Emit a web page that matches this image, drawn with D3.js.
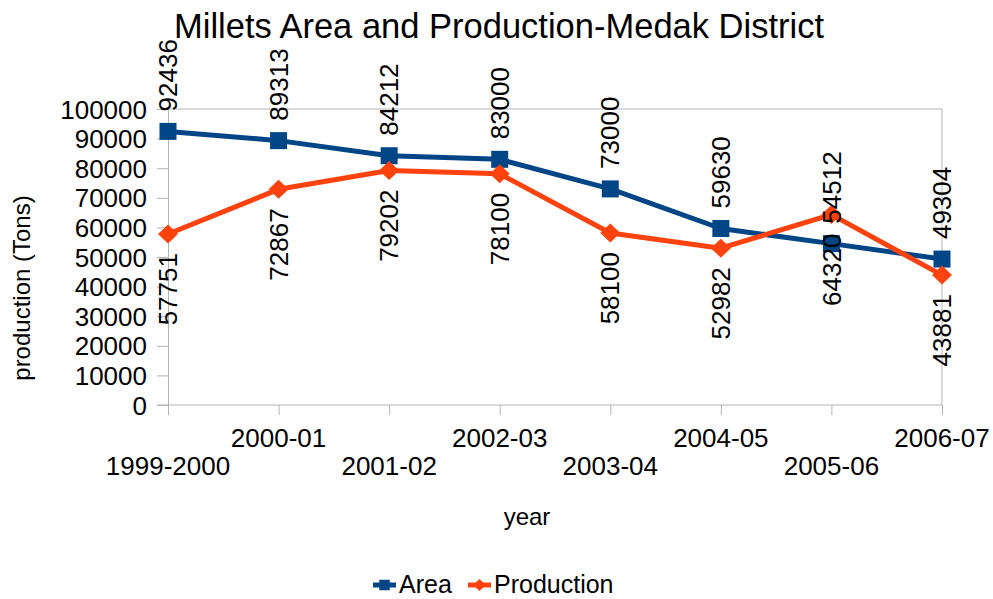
<!DOCTYPE html>
<html>
<head>
  <style>
    body {
      margin: 0;
      background: white;
    }
    text {
      font-family: "Liberation Sans", Arial, sans-serif;
      fill: black;
    }
  </style>
</head>
<body>
  <script src="https://d3js.org/d3.v7.min.js"></script>
  <script>
    var years = ["1999-2000", "2000-01", "2001-02", "2002-03", "2003-04", "2004-05", "2005-06", "2006-07"];
    var area = [92436, 89313, 84212, 83000, 73000, 59630, 54512, 49304];
    var production = [57751, 72867, 79202, 78100, 58100, 52982, 64320, 43881];
    var yTicks = [0, 10000, 20000, 30000, 40000, 50000, 60000, 70000, 80000, 90000, 100000];

    var width = 993, height = 599;
    var plotLeft = 168, plotRight = 942, plotTop = 109, plotBottom = 405;
    var blue = "#004586", orange = "#ff420e", grey = "#b3b3b3";
    var fs = 26;

    var svg = d3.select("body").append("svg")
        .attr("width", width)
        .attr("height", height);

    var x = d3.scalePoint().domain(years).range([plotLeft, plotRight]);
    var y = d3.scaleLinear().domain([0, 100000]).range([plotBottom, plotTop]);

    // square-ish diamond, like the office chart marker
    function diamond(w, h) {
      return "M0," + (-h) + "L" + w + ",0L0," + h + "L" + (-w) + ",0Z";
    }

    // frame
    svg.append("line").attr("x1", plotLeft).attr("x2", plotRight).attr("y1", plotTop).attr("y2", plotTop)
        .attr("stroke", grey).attr("stroke-width", 1);
    svg.append("line").attr("x1", plotRight).attr("x2", plotRight).attr("y1", plotTop).attr("y2", plotBottom)
        .attr("stroke", grey).attr("stroke-width", 1);

    // y axis
    var yAxis = svg.append("g")
        .attr("transform", "translate(" + plotLeft + ",0)")
        .call(d3.axisLeft(y).tickValues(yTicks).tickSize(11).tickSizeOuter(0).tickPadding(10).tickFormat(d3.format("d")));
    yAxis.select(".domain").attr("stroke", grey);
    yAxis.selectAll(".tick line").attr("stroke", grey);
    yAxis.selectAll("text").attr("font-size", fs).attr("font-family", "Liberation Sans").attr("fill", "black")
        .attr("dy", "0.35em");

    // x axis
    var xAxis = svg.append("g")
        .attr("transform", "translate(0," + plotBottom + ")")
        .call(d3.axisBottom(x).tickSize(10).tickSizeOuter(0).tickFormat(""));
    xAxis.select(".domain").attr("stroke", grey).attr("d", "M" + (plotLeft - 11) + ",0H" + plotRight);
    xAxis.selectAll(".tick line").attr("stroke", grey);

    svg.append("g").selectAll("text")
        .data(years)
      .enter().append("text")
        .attr("x", d => x(d))
        .attr("y", (d, i) => i % 2 ? 447 : 475)
        .attr("text-anchor", "middle")
        .attr("font-size", fs)
        .text(d => d);

    // lines
    var series = [
      {name: "Area", values: area, color: blue, marker: d3.symbol().type(d3.symbolSquare).size(289)(), legendMarker: d3.symbol().type(d3.symbolSquare).size(110)()},
      {name: "Production", values: production, color: orange, marker: diamond(10, 9.5), legendMarker: diamond(6.5, 6)}
    ];

    var line = d3.line()
        .x((d, i) => x(years[i]))
        .y(d => y(d));

    series.forEach(s => {
      svg.append("path")
          .attr("d", line(s.values))
          .attr("fill", "none")
          .attr("stroke", s.color)
          .attr("stroke-width", 5)
          .attr("stroke-linejoin", "round");
    });

    series.forEach(s => {
      svg.append("g").selectAll("path")
          .data(s.values)
        .enter().append("path")
          .attr("transform", (d, i) => "translate(" + x(years[i]) + "," + y(d) + ")")
          .attr("d", s.marker)
          .attr("fill", s.color);
    });

    // data labels
    svg.append("g").selectAll("text")
        .data(area)
      .enter().append("text")
        .attr("transform", (d, i) => "translate(" + x(years[i]) + "," + (y(d) - 20) + ") rotate(-90)")
        .attr("dy", "0.35em")
        .attr("text-anchor", "start")
        .attr("font-size", fs)
        .text(d => d);

    svg.append("g").selectAll("text")
        .data(production)
      .enter().append("text")
        .attr("transform", (d, i) => "translate(" + x(years[i]) + "," + (y(d) + 19) + ") rotate(-90)")
        .attr("dy", "0.35em")
        .attr("text-anchor", "end")
        .attr("font-size", fs)
        .text(d => d);

    // titles
    svg.append("text")
        .attr("x", 499).attr("y", 38)
        .attr("text-anchor", "middle")
        .attr("font-size", 34.5)
        .text("Millets Area and Production-Medak District");

    svg.append("text")
        .attr("x", 527).attr("y", 525)
        .attr("text-anchor", "middle")
        .attr("font-size", 24)
        .text("year");

    svg.append("text")
        .attr("transform", "translate(30,288) rotate(-90)")
        .attr("text-anchor", "middle")
        .attr("font-size", 24)
        .text("production (Tons)");

    // legend
    var legendX = [373, 468];
    var legend = svg.append("g").selectAll("g")
        .data(series)
      .enter().append("g")
        .attr("transform", (d, i) => "translate(" + legendX[i] + ",585)");
    legend.append("line")
        .attr("x1", 0).attr("x2", 23)
        .attr("stroke", d => d.color)
        .attr("stroke-width", 5);
    legend.append("path")
        .attr("transform", "translate(11.5,0)")
        .attr("d", d => d.legendMarker)
        .attr("fill", d => d.color);
    legend.append("text")
        .attr("x", 26).attr("y", 8)
        .attr("font-size", 25)
        .text(d => d.name);
  </script>
</body>
</html>
